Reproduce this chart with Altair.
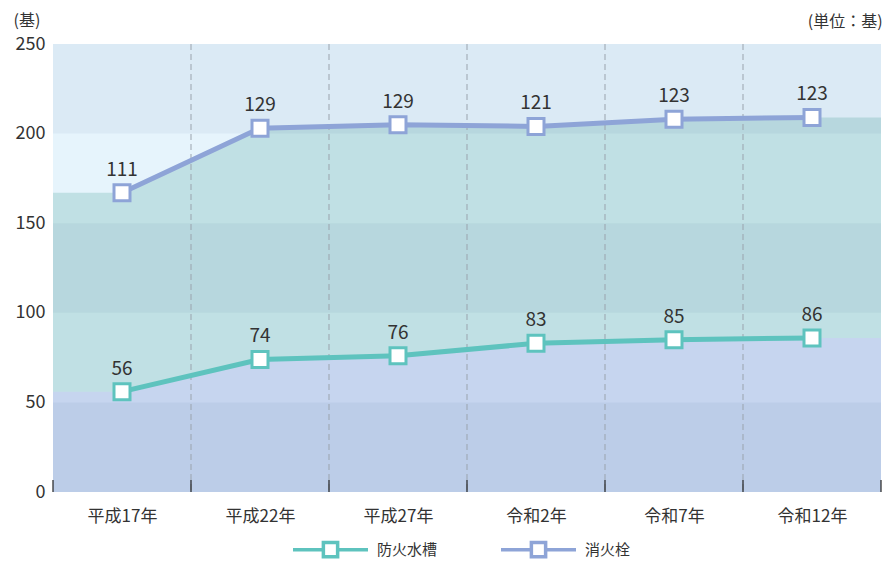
import altair as alt
import pandas as pd

years = ["平成17年", "平成22年", "平成27年", "令和2年", "令和7年", "令和12年"]
tank = [56, 74, 76, 83, 85, 86]          # 防火水槽
hydrant = [111, 129, 129, 121, 123, 123]  # 消火栓
series_names = ["防火水槽", "消火栓"]
series_colors = ["#5ec3be", "#8ea4d7"]
band_starts = [0, 100, 200]
band_size = 50

FONT = "Noto Sans CJK JP"
W, H = 828, 448

n = len(years)
rows = []
for i in range(n):
    rows.append({"idx": i, "series": series_names[0], "col": series_colors[0],
                 "value": tank[i], "y": tank[i]})
    rows.append({"idx": i, "series": series_names[1], "col": series_colors[1],
                 "value": hydrant[i], "y": tank[i] + hydrant[i]})
df = pd.DataFrame(rows)

# area data extended flat to plot edges
area_rows = []
ext = [(-0.5, 0)] + [(i, i) for i in range(n)] + [(n - 0.5, n - 1)]
for xpos, src in ext:
    area_rows.append({"x": xpos, "tank": tank[src], "total": tank[src] + hydrant[src]})
adf = pd.DataFrame(area_rows)

bands = pd.DataFrame({"y0": band_starts, "y1": [b + band_size for b in band_starts]})
dividers = pd.DataFrame({"x": [i + 0.5 for i in range(n - 1)]})
edges = pd.DataFrame({"x": [i - 0.5 for i in range(n + 1)]})

xscale = alt.Scale(domain=[-0.5, n - 0.5], nice=False, zero=False)
yscale = alt.Scale(domain=[0, 250], nice=False)

label_expr = "[" + ",".join(f"'{y}'" for y in years) + "][round(datum.value)]"

x_axis = alt.Axis(values=list(range(n)), labelExpr=label_expr, title=None, ticks=False,
                  domain=False, grid=False, labelFont=FONT, labelFontSize=17,
                  labelColor="#333", labelPadding=16)
y_axis = alt.Axis(values=[0, 50, 100, 150, 200, 250], title="(基)", titleAngle=0,
                  titleAlign="left", titleBaseline="middle", titleX=-40, titleY=-24,
                  titleFont=FONT, titleFontSize=16, titleFontWeight="normal", titleColor="#333",
                  ticks=False, domain=False, grid=False, labelFont=FONT, labelFontSize=18,
                  labelColor="#333", labelPadding=8)

area_total = alt.Chart(adf).mark_area(color="#c0e0e4", interpolate="linear").encode(
    x=alt.X("x:Q", scale=xscale, axis=x_axis),
    y=alt.Y("total:Q", scale=yscale, axis=y_axis),
)
area_tank = alt.Chart(adf).mark_area(color="#c6d5ef", interpolate="linear").encode(
    x=alt.X("x:Q", scale=xscale),
    y=alt.Y("tank:Q", scale=yscale),
)
band_layer = alt.Chart(bands).mark_rect(color="#1a3d7a", opacity=0.05).encode(
    x=alt.value(0), x2=alt.value(W),
    y=alt.Y("y0:Q", scale=yscale), y2="y1:Q",
)
div_layer = alt.Chart(dividers).mark_rule(color="#9aa3ad", strokeDash=[6, 4], strokeWidth=1).encode(
    x=alt.X("x:Q", scale=xscale), y=alt.value(0), y2=alt.value(H),
)
edge_layer = alt.Chart(edges).mark_rule(color="#222", strokeWidth=1.2).encode(
    x=alt.X("x:Q", scale=xscale), y=alt.value(H), y2=alt.value(H - 12),
)

color_scale = alt.Scale(domain=series_names, range=series_colors)

lines = alt.Chart(df).mark_line(strokeWidth=5).encode(
    x=alt.X("idx:Q", scale=xscale),
    y=alt.Y("y:Q", scale=yscale),
    color=alt.Color("col:N", scale=None),
    detail="series:N",
)

legend_path = "M-1,0L-0.19,0M0.19,0L1,0M-0.19,-0.19L0.19,-0.19L0.19,0.19L-0.19,0.19Z"
points = alt.Chart(df).mark_point(shape="square", filled=True, size=256, strokeWidth=3,
                                  fill="white", opacity=1).encode(
    x=alt.X("idx:Q", scale=xscale),
    y=alt.Y("y:Q", scale=yscale),
    stroke=alt.Stroke("series:N", scale=color_scale, legend=alt.Legend(
        title=None, orient="none", legendX=238, legendY=466, direction="horizontal",
        symbolType=legend_path, symbolSize=5625, symbolStrokeWidth=3.5,
        symbolFillColor="white", symbolOpacity=1, labelFont=FONT, labelFontSize=15,
        labelColor="#333", labelOffset=7, columnPadding=56, columns=2)),
)
labels = alt.Chart(df).mark_text(font=FONT, fontSize=19, color="#333", dy=-23).encode(
    x=alt.X("idx:Q", scale=xscale),
    y=alt.Y("y:Q", scale=yscale),
    text="value:Q",
)

chart = alt.layer(area_total, area_tank, band_layer, div_layer, edge_layer, lines, points, labels).properties(
    width=W, height=H,
    title=alt.TitleParams("(単位：基)", anchor="end", font=FONT, fontSize=16,
                          fontWeight="normal", color="#333", offset=12, dy=30, dx=1),
    autosize=alt.AutoSizeParams(type="none"),
    padding={"left": 45, "top": 36, "right": 2, "bottom": 70},
).configure_view(fill="#e6f4fc", stroke=None)

chart.save("out.html", embed_options={"renderer": "svg", "actions": False})
